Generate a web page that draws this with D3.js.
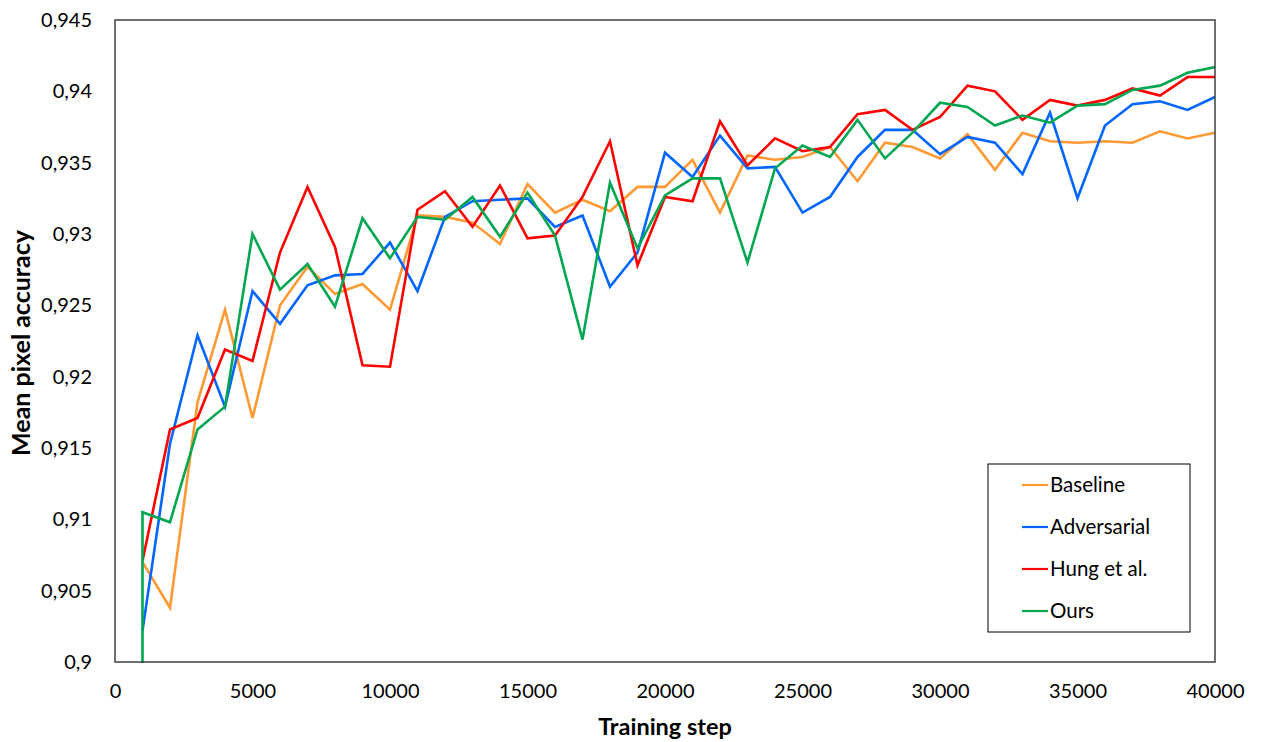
<!DOCTYPE html>
<html>
<head>
<meta charset="utf-8">
<script src="https://cdn.jsdelivr.net/npm/d3@7"></script>
<style>
  body { margin: 0; background: #fff; }
  text { font-family: Lato, "Open Sans", sans-serif; fill: #000; }
</style>
</head>
<body>
<div id="chart"></div>
<script>
// training steps (x) and mean pixel accuracy of each method
const steps = [1000, 2000, 3000, 4000, 5000, 6000, 7000, 8000, 9000, 10000,
  11000, 12000, 13000, 14000, 15000, 16000, 17000, 18000, 19000, 20000,
  21000, 22000, 23000, 24000, 25000, 26000, 27000, 28000, 29000, 30000,
  31000, 32000, 33000, 34000, 35000, 36000, 37000, 38000, 39000, 40000];

const baseline = [0.9070, 0.9038, 0.9182, 0.9247, 0.9171, 0.9250, 0.9277, 0.9258, 0.9265, 0.9247,
  0.9313, 0.9312, 0.9308, 0.9293, 0.9335, 0.9315, 0.9324, 0.9316, 0.9333, 0.9333,
  0.9352, 0.9315, 0.9355, 0.9352, 0.9354, 0.9361, 0.9337, 0.9364, 0.9361, 0.9353,
  0.9370, 0.9345, 0.9371, 0.9365, 0.9364, 0.9365, 0.9364, 0.9372, 0.9367, 0.9371];

const adversarial = [0.9022, 0.9153, 0.9229, 0.9179, 0.9260, 0.9237, 0.9264, 0.9271, 0.9272, 0.9294,
  0.9260, 0.9312, 0.9323, 0.9324, 0.9325, 0.9305, 0.9313, 0.9263, 0.9287, 0.9357,
  0.9340, 0.9369, 0.9346, 0.9347, 0.9315, 0.9326, 0.9354, 0.9373, 0.9373, 0.9356,
  0.9368, 0.9364, 0.9342, 0.9385, 0.9325, 0.9376, 0.9391, 0.9393, 0.9387, 0.9396];

const hung = [0.9071, 0.9163, 0.9171, 0.9219, 0.9211, 0.9287, 0.9333, 0.9291, 0.9208, 0.9207,
  0.9317, 0.9330, 0.9305, 0.9334, 0.9297, 0.9299, 0.9326, 0.9365, 0.9278, 0.9326,
  0.9323, 0.9379, 0.9348, 0.9367, 0.9358, 0.9361, 0.9384, 0.9387, 0.9373, 0.9382,
  0.9404, 0.9400, 0.9380, 0.9394, 0.9390, 0.9394, 0.9402, 0.9397, 0.9410, 0.9410];

const ours = [0.9105, 0.9098, 0.9163, 0.9179, 0.9300, 0.9261, 0.9279, 0.9249, 0.9311, 0.9283,
  0.9312, 0.9310, 0.9326, 0.9298, 0.9329, 0.9299, 0.9226, 0.9336, 0.9290, 0.9327,
  0.9339, 0.9339, 0.9280, 0.9346, 0.9362, 0.9354, 0.9380, 0.9353, 0.9371, 0.9392,
  0.9389, 0.9376, 0.9383, 0.9378, 0.9390, 0.9391, 0.9401, 0.9404, 0.9413, 0.9417];
// "Ours" has an extra first evaluation at step 1000 below the axis range
const oursFirst = 0.89;

const seriesNames = ["Baseline", "Adversarial", "Hung et al.", "Ours"];
const seriesColors = ["#FF9933", "#0066FF", "#FF0000", "#00A651"];

const xTicks = [0, 5000, 10000, 15000, 20000, 25000, 30000, 35000, 40000];
const yTicks = [0.9, 0.905, 0.91, 0.915, 0.92, 0.925, 0.93, 0.935, 0.94, 0.945];

let width = 1261;
let height = 742;
let margin = ({top: 20, right: 46, bottom: 80, left: 115});

const locale = d3.formatLocale({decimal: ",", thousands: ".", grouping: [3], currency: ["", ""]});
const fmtY = locale.format("~g");

const x = d3.scaleLinear().domain([0, 40000]).range([margin.left, width - margin.right]);
const y = d3.scaleLinear().domain([0.9, 0.945]).range([height - margin.bottom, margin.top]);

const svg = d3.select("#chart").append("svg")
    .attr("width", width)
    .attr("height", height);

svg.append("defs").append("clipPath")
    .attr("id", "plot-clip")
  .append("rect")
    .attr("x", margin.left)
    .attr("y", margin.top)
    .attr("width", width - margin.left - margin.right)
    .attr("height", height - margin.top - margin.bottom + 1);

// series points
const series = [baseline, adversarial, hung, ours].map((vals, i) => {
  let pts = steps.map((s, j) => ({step: s, value: vals[j]}));
  if (i === 3) pts.unshift({step: steps[0], value: oursFirst});
  return {name: seriesNames[i], color: seriesColors[i], points: pts};
});

const line = d3.line().x(d => x(d.step)).y(d => y(d.value));

svg.append("g")
    .attr("clip-path", "url(#plot-clip)")
    .attr("fill", "none")
    .attr("stroke-width", 2.6)
    .attr("stroke-linejoin", "miter")
  .selectAll("path")
  .data(series)
  .join("path")
    .attr("stroke", d => d.color)
    .attr("d", d => line(d.points));

// plot frame
svg.append("rect")
    .attr("x", margin.left)
    .attr("y", margin.top)
    .attr("width", width - margin.left - margin.right)
    .attr("height", height - margin.top - margin.bottom)
    .attr("fill", "none")
    .attr("stroke", "#404040")
    .attr("stroke-width", 1.5);

// axes (labels only, no tick marks)
const xAxis = svg.append("g")
    .attr("transform", `translate(0,${height - margin.bottom})`)
    .call(d3.axisBottom(x).tickValues(xTicks).tickFormat(d3.format("d")).tickSize(0).tickPadding(22));
xAxis.select(".domain").remove();
xAxis.selectAll("text").style("font-size", "20px").style("font-family", "Lato, sans-serif").attr("fill", "#000");

const yAxis = svg.append("g")
    .attr("transform", `translate(${margin.left},0)`)
    .call(d3.axisLeft(y).tickValues(yTicks).tickFormat(fmtY).tickSize(0).tickPadding(23));
yAxis.select(".domain").remove();
yAxis.selectAll("text").style("font-size", "20px").style("font-family", "Lato, sans-serif").attr("fill", "#000");

svg.append("text")
    .attr("x", (margin.left + width - margin.right) / 2)
    .attr("y", 735)
    .attr("text-anchor", "middle")
    .style("font-size", "23.5px")
    .style("font-weight", "bold")
    .text("Training step");

svg.append("text")
    .attr("transform", `translate(30,${(margin.top + height - margin.bottom) / 2 + 2}) rotate(-90)`)
    .attr("text-anchor", "middle")
    .style("font-size", "25px")
    .style("font-weight", "bold")
    .text("Mean pixel accuracy");

// legend
const legend = svg.append("g").attr("transform", "translate(988,464)");
legend.append("rect")
    .attr("width", 202)
    .attr("height", 168)
    .attr("fill", "#fff")
    .attr("stroke", "#000")
    .attr("stroke-width", 1);

const item = legend.selectAll("g.item")
  .data(series)
  .join("g")
    .attr("class", "item")
    .attr("transform", (d, i) => `translate(0,${21 + i * 42})`);

item.append("line")
    .attr("x1", 34)
    .attr("x2", 60)
    .attr("stroke", d => d.color)
    .attr("stroke-width", 2.2);

item.append("text")
    .attr("x", 62)
    .attr("dy", "0.35em")
    .style("font-size", "20.5px")
    .text(d => d.name);
</script>
</body>
</html>
